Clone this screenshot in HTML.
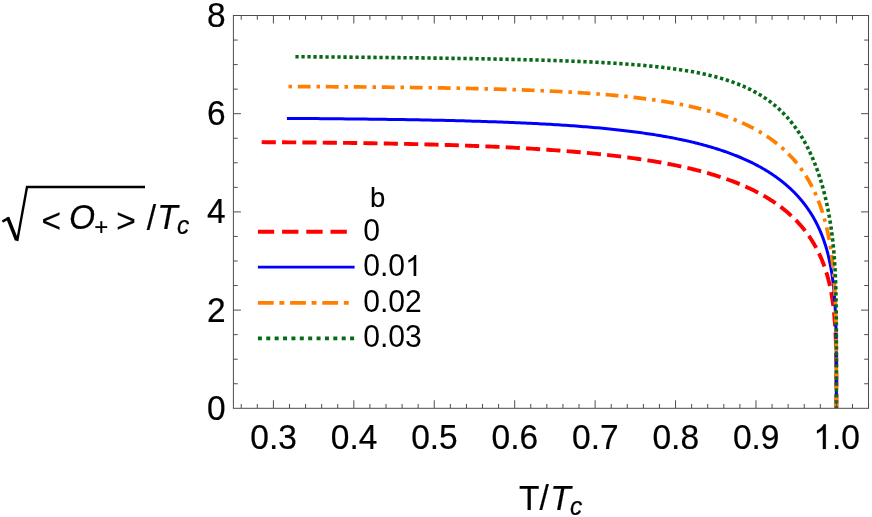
<!DOCTYPE html><html><head><meta charset="utf-8"><title>chart</title>
<style>html,body{margin:0;padding:0;background:#fff}svg{display:block;will-change:transform}text{font-family:"Liberation Sans",sans-serif;fill:#000}</style></head><body>
<svg width="872" height="517" viewBox="0 0 872 517">
<rect width="872" height="517" fill="#fff"/>
<clipPath id="c"><rect x="233.4" y="15.5" width="635.1" height="392.8"/></clipPath>
<g clip-path="url(#c)" fill="none" stroke-linecap="butt" stroke-linejoin="round">
<path d="M261.70,142.17 L266.29,142.20 L270.86,142.22 L275.40,142.25 L279.91,142.28 L284.39,142.31 L288.85,142.34 L293.28,142.37 L297.68,142.41 L302.05,142.44 L306.40,142.48 L310.72,142.51 L315.02,142.55 L319.29,142.59 L323.53,142.64 L327.75,142.68 L331.94,142.73 L336.10,142.77 L340.24,142.82 L344.36,142.87 L348.44,142.92 L352.51,142.98 L356.54,143.03 L360.55,143.09 L364.54,143.15 L368.50,143.21 L372.44,143.27 L376.35,143.33 L380.23,143.40 L384.10,143.47 L387.93,143.54 L391.75,143.61 L395.53,143.68 L399.30,143.76 L403.04,143.84 L406.75,143.92 L410.45,144.00 L414.11,144.08 L417.76,144.17 L421.38,144.26 L424.98,144.35 L428.55,144.44 L432.10,144.54 L435.63,144.63 L439.13,144.73 L442.61,144.83 L446.07,144.94 L449.51,145.04 L452.92,145.15 L456.31,145.26 L459.68,145.38 L463.02,145.49 L466.34,145.61 L469.64,145.73 L472.92,145.85 L476.18,145.98 L479.41,146.10 L482.62,146.23 L485.81,146.37 L488.98,146.50 L492.13,146.64 L495.26,146.78 L498.36,146.92 L501.45,147.06 L504.51,147.21 L507.55,147.36 L510.57,147.51 L513.57,147.67 L516.55,147.83 L519.51,147.99 L522.44,148.15 L525.36,148.32 L528.26,148.48 L531.13,148.65 L533.99,148.83 L536.83,149.00 L539.64,149.18 L542.44,149.37 L545.22,149.55 L547.97,149.74 L550.71,149.93 L553.43,150.12 L556.13,150.32 L558.80,150.51 L561.46,150.72 L564.10,150.92 L566.73,151.13 L569.33,151.34 L571.91,151.55 L574.48,151.76 L577.02,151.98 L579.55,152.20 L582.06,152.43 L584.55,152.66 L587.02,152.89 L589.48,153.12 L591.91,153.35 L594.33,153.59 L596.73,153.84 L599.11,154.08 L601.47,154.33 L603.82,154.58 L606.15,154.83 L608.46,155.09 L610.75,155.35 L613.03,155.61 L615.29,155.88 L617.53,156.15 L619.76,156.42 L621.96,156.70 L624.16,156.98 L626.33,157.26 L628.49,157.54 L630.63,157.83 L632.75,158.12 L634.86,158.42 L636.95,158.71 L639.02,159.01 L641.08,159.32 L643.13,159.62 L645.15,159.93 L647.16,160.25 L649.16,160.56 L651.14,160.88 L653.10,161.20 L655.05,161.53 L656.98,161.86 L658.89,162.19 L660.80,162.53 L662.68,162.86 L664.55,163.21 L666.41,163.55 L668.25,163.90 L670.07,164.25 L671.88,164.61 L673.68,164.96 L675.46,165.32 L677.23,165.69 L678.98,166.06 L680.71,166.43 L682.44,166.80 L684.15,167.18 L685.84,167.56 L687.52,167.94 L689.18,168.33 L690.84,168.72 L692.47,169.11 L694.10,169.51 L695.71,169.91 L697.31,170.31 L698.89,170.72 L700.46,171.13 L702.01,171.54 L703.56,171.96 L705.08,172.38 L706.60,172.80 L708.10,173.22 L709.59,173.65 L711.07,174.08 L712.53,174.52 L713.98,174.96 L715.42,175.40 L716.85,175.84 L718.26,176.29 L719.66,176.74 L721.05,177.19 L722.42,177.65 L723.79,178.11 L725.14,178.57 L726.48,179.04 L727.80,179.51 L729.12,179.98 L730.42,180.46 L731.71,180.93 L732.99,181.42 L734.25,181.90 L735.51,182.39 L736.75,182.88 L737.99,183.37 L739.21,183.87 L740.42,184.37 L741.61,184.87 L742.80,185.37 L743.98,185.88 L745.14,186.39 L746.29,186.91 L747.44,187.42 L748.57,187.94 L749.69,188.46 L750.80,188.99 L751.90,189.52 L752.99,190.05 L754.06,190.58 L755.13,191.12 L756.19,191.66 L757.23,192.20 L758.27,192.74 L759.30,193.29 L760.31,193.84 L761.32,194.39 L762.32,194.95 L763.30,195.50 L764.28,196.06 L765.24,196.62 L766.20,197.19 L767.15,197.76 L768.09,198.33 L769.01,198.90 L769.93,199.47 L770.84,200.05 L771.74,200.63 L772.63,201.21 L773.51,201.80 L774.38,202.38 L775.25,202.97 L776.10,203.56 L776.95,204.16 L777.78,204.75 L778.61,205.35 L779.43,205.95 L780.24,206.56 L781.04,207.16 L781.83,207.77 L782.61,208.38 L783.39,208.99 L784.16,209.60 L784.91,210.21 L785.66,210.83 L786.41,211.45 L787.14,212.07 L787.87,212.69 L788.58,213.32 L789.29,213.95 L789.99,214.58 L790.69,215.21 L791.37,215.84 L792.05,216.47 L792.72,217.11 L793.39,217.75 L794.04,218.39 L794.69,219.03 L795.33,219.67 L795.96,220.31 L796.59,220.96 L797.21,221.61 L797.82,222.26 L798.42,222.91 L799.02,223.56 L799.61,224.22 L800.19,224.87 L800.77,225.53 L801.34,226.19 L801.90,226.85 L802.45,227.51 L803.00,228.17 L803.55,228.84 L804.08,229.50 L804.61,230.17 L805.13,230.84 L805.65,231.51 L806.16,232.18 L806.66,232.85 L807.16,233.52 L807.65,234.20 L808.13,234.88 L808.61,235.55 L809.08,236.23 L809.55,236.91 L810.01,237.59 L810.46,238.27 L810.91,238.96 L811.35,239.64 L811.79,240.32 L812.22,241.01 L812.64,241.70 L813.06,242.39 L813.48,243.07 L813.89,243.76 L814.29,244.46 L814.69,245.15 L815.08,245.84 L815.47,246.53 L815.85,247.23 L816.22,247.92 L816.59,248.62 L816.96,249.32 L817.32,250.02 L817.68,250.71 L818.03,251.41 L818.37,252.11 L818.71,252.82 L819.05,253.52 L819.38,254.22 L819.71,254.92 L820.03,255.63 L820.35,256.33 L820.66,257.04 L820.97,257.75 L821.27,258.45 L821.57,259.16 L821.86,259.87 L822.15,260.58 L822.44,261.29 L822.72,262.00 L823.00,262.71 L823.27,263.42 L823.54,264.13 L823.80,264.85 L824.06,265.56 L824.32,266.27 L824.57,266.99 L824.82,267.70 L825.07,268.42 L825.31,269.13 L825.54,269.85 L825.78,270.57 L826.00,271.29 L826.23,272.00 L826.45,272.72 L826.67,273.44 L826.88,274.16 L827.09,274.88 L827.30,275.60 L827.51,276.32 L827.71,277.05 L827.90,277.77 L828.10,278.49 L828.29,279.21 L828.47,279.94 L828.66,280.66 L828.84,281.39 L829.02,282.11 L829.19,282.84 L829.36,283.56 L829.53,284.29 L829.69,285.02 L829.86,285.75 L830.02,286.47 L830.17,287.20 L830.33,287.93 L830.48,288.66 L830.62,289.39 L830.77,290.12 L830.91,290.85 L831.05,291.58 L831.19,292.32 L831.32,293.05 L831.45,293.78 L831.58,294.51 L831.71,295.25 L831.83,295.98 L831.95,296.72 L832.07,297.45 L832.19,298.19 L832.30,298.92 L832.41,299.66 L832.52,300.40 L832.63,301.13 L832.74,301.87 L832.84,302.61 L832.94,303.35 L833.04,304.09 L833.13,304.83 L833.23,305.57 L833.32,306.31 L833.41,307.05 L833.50,307.79 L833.59,308.54 L833.67,309.28 L833.75,310.02 L833.83,310.77 L833.91,311.51 L833.99,312.26 L834.06,313.00 L834.14,313.75 L834.21,314.50 L834.28,315.24 L834.35,315.99 L834.41,316.74 L834.48,317.49 L834.54,318.24 L834.60,318.99 L834.66,319.74 L834.72,320.49 L834.78,321.25 L834.83,322.00 L834.89,322.75 L834.94,323.51 L834.99,324.26 L835.04,325.02 L835.09,325.77 L835.14,326.53 L835.19,327.29 L835.23,328.04 L835.27,328.80 L835.32,329.56 L835.36,330.32 L835.40,331.08 L835.44,331.84 L835.47,332.60 L835.51,333.37 L835.55,334.13 L835.58,334.89 L835.61,335.66 L835.65,336.42 L835.68,337.19 L835.71,337.95 L835.74,338.72 L835.76,339.49 L835.79,340.26 L835.82,341.02 L835.84,341.79 L835.87,342.56 L835.89,343.33 L835.92,344.11 L835.94,344.88 L835.96,345.65 L835.98,346.42 L836.00,347.20 L836.02,347.97 L836.04,348.75 L836.06,349.52 L836.07,350.30 L836.09,351.08 L836.11,351.85 L836.12,352.63 L836.14,353.41 L836.15,354.19 L836.16,354.97 L836.18,355.75 L836.19,356.53 L836.20,357.31 L836.21,358.09 L836.22,358.88 L836.23,359.66 L836.24,360.44 L836.25,361.23 L836.26,362.01 L836.27,362.79 L836.28,363.58 L836.29,364.36 L836.30,365.15 L836.30,365.93 L836.31,366.72 L836.32,367.51 L836.32,368.29 L836.33,369.08 L836.33,369.87 L836.34,370.65 L836.34,371.44 L836.35,372.23 L836.35,373.02 L836.35,373.80 L836.36,374.59 L836.36,375.38 L836.37,376.16 L836.37,376.95 L836.37,377.74 L836.37,378.52 L836.38,379.31 L836.38,380.09 L836.38,380.88 L836.38,381.66 L836.38,382.44 L836.39,383.22 L836.39,384.01 L836.39,384.79 L836.39,385.56 L836.39,386.34 L836.39,387.12 L836.39,387.89 L836.39,388.67 L836.40,389.44 L836.40,390.21 L836.40,390.98 L836.40,391.74 L836.40,392.51 L836.40,393.27 L836.40,394.03 L836.40,394.78 L836.40,395.53 L836.40,396.28 L836.40,397.03 L836.40,397.77 L836.40,398.50 L836.40,399.23 L836.40,399.96 L836.40,400.68 L836.40,401.39 L836.40,402.10 L836.40,402.79 L836.40,403.48 L836.40,404.16 L836.40,404.82 L836.40,405.48 L836.40,406.11 L836.40,406.72 L836.40,407.31 L836.40,407.85 L836.40,408.30" stroke="#ff0000" stroke-width="3.9" stroke-dasharray="14.16 6.18"/>
<path d="M286.90,118.41 L291.29,118.44 L295.66,118.47 L300.00,118.50 L304.31,118.53 L308.60,118.56 L312.86,118.59 L317.09,118.62 L321.30,118.66 L325.48,118.69 L329.64,118.73 L333.77,118.76 L337.88,118.80 L341.96,118.84 L346.02,118.88 L350.05,118.92 L354.06,118.96 L358.04,119.00 L362.00,119.05 L365.93,119.09 L369.84,119.14 L373.72,119.19 L377.58,119.24 L381.42,119.29 L385.23,119.34 L389.02,119.39 L392.78,119.45 L396.52,119.50 L400.24,119.56 L403.93,119.62 L407.60,119.68 L411.24,119.74 L414.87,119.80 L418.46,119.87 L422.04,119.93 L425.59,120.00 L429.12,120.07 L432.63,120.14 L436.12,120.21 L439.58,120.29 L443.02,120.36 L446.43,120.44 L449.83,120.52 L453.20,120.60 L456.55,120.69 L459.88,120.77 L463.19,120.86 L466.47,120.95 L469.73,121.04 L472.97,121.13 L476.19,121.23 L479.39,121.32 L482.57,121.42 L485.72,121.52 L488.86,121.63 L491.97,121.73 L495.07,121.84 L498.14,121.95 L501.19,122.06 L504.22,122.18 L507.23,122.29 L510.22,122.41 L513.19,122.53 L516.13,122.66 L519.06,122.78 L521.97,122.91 L524.86,123.04 L527.73,123.18 L530.57,123.31 L533.40,123.45 L536.21,123.60 L539.00,123.74 L541.77,123.89 L544.52,124.04 L547.25,124.19 L549.96,124.35 L552.66,124.50 L555.33,124.66 L557.98,124.83 L560.62,124.99 L563.24,125.16 L565.84,125.34 L568.42,125.51 L570.98,125.69 L573.52,125.87 L576.04,126.06 L578.55,126.24 L581.04,126.44 L583.51,126.63 L585.96,126.83 L588.40,127.03 L590.81,127.23 L593.21,127.44 L595.59,127.65 L597.96,127.86 L600.30,128.07 L602.63,128.29 L604.94,128.52 L607.24,128.74 L609.52,128.97 L611.78,129.20 L614.02,129.44 L616.25,129.68 L618.46,129.92 L620.65,130.17 L622.83,130.42 L624.99,130.67 L627.13,130.93 L629.26,131.19 L631.37,131.45 L633.46,131.72 L635.54,131.99 L637.60,132.26 L639.65,132.54 L641.68,132.82 L643.70,133.11 L645.70,133.40 L647.68,133.69 L649.65,133.98 L651.60,134.28 L653.54,134.58 L655.46,134.89 L657.37,135.20 L659.26,135.51 L661.14,135.83 L663.00,136.15 L664.85,136.48 L666.68,136.80 L668.50,137.14 L670.30,137.47 L672.09,137.81 L673.86,138.15 L675.62,138.50 L677.37,138.85 L679.10,139.20 L680.81,139.56 L682.52,139.92 L684.21,140.29 L685.88,140.65 L687.54,141.03 L689.19,141.40 L690.82,141.78 L692.44,142.16 L694.05,142.55 L695.64,142.94 L697.22,143.33 L698.79,143.73 L700.34,144.13 L701.88,144.53 L703.40,144.94 L704.92,145.35 L706.42,145.77 L707.91,146.19 L709.38,146.61 L710.84,147.03 L712.29,147.46 L713.73,147.89 L715.15,148.33 L716.57,148.77 L717.96,149.21 L719.35,149.66 L720.73,150.11 L722.09,150.56 L723.44,151.02 L724.78,151.48 L726.11,151.94 L727.42,152.41 L728.72,152.88 L730.02,153.35 L731.30,153.83 L732.56,154.31 L733.82,154.79 L735.07,155.28 L736.30,155.76 L737.52,156.26 L738.73,156.75 L739.93,157.25 L741.12,157.75 L742.30,158.26 L743.47,158.77 L744.62,159.28 L745.77,159.79 L746.90,160.31 L748.03,160.83 L749.14,161.36 L750.24,161.88 L751.34,162.41 L752.42,162.94 L753.49,163.48 L754.55,164.02 L755.60,164.56 L756.64,165.10 L757.67,165.65 L758.69,166.20 L759.71,166.75 L760.71,167.31 L761.70,167.86 L762.68,168.43 L763.65,168.99 L764.61,169.55 L765.56,170.12 L766.51,170.69 L767.44,171.27 L768.37,171.84 L769.28,172.42 L770.19,173.01 L771.08,173.59 L771.97,174.18 L772.85,174.76 L773.72,175.36 L774.58,175.95 L775.43,176.55 L776.27,177.14 L777.10,177.75 L777.93,178.35 L778.74,178.95 L779.55,179.56 L780.35,180.17 L781.14,180.78 L781.92,181.40 L782.70,182.02 L783.46,182.63 L784.22,183.26 L784.97,183.88 L785.71,184.50 L786.45,185.13 L787.17,185.76 L787.89,186.39 L788.60,187.03 L789.30,187.66 L789.99,188.30 L790.68,188.94 L791.36,189.58 L792.03,190.22 L792.69,190.87 L793.35,191.51 L794.00,192.16 L794.64,192.81 L795.27,193.47 L795.90,194.12 L796.52,194.78 L797.13,195.43 L797.74,196.09 L798.34,196.75 L798.93,197.42 L799.51,198.08 L800.09,198.75 L800.66,199.42 L801.22,200.08 L801.78,200.76 L802.33,201.43 L802.87,202.10 L803.41,202.78 L803.94,203.46 L804.47,204.13 L804.99,204.81 L805.50,205.50 L806.00,206.18 L806.50,206.86 L807.00,207.55 L807.48,208.24 L807.96,208.93 L808.44,209.62 L808.91,210.31 L809.37,211.00 L809.83,211.70 L810.28,212.39 L810.72,213.09 L811.16,213.79 L811.60,214.49 L812.03,215.19 L812.45,215.89 L812.87,216.59 L813.28,217.30 L813.69,218.01 L814.09,218.71 L814.48,219.42 L814.87,220.13 L815.26,220.84 L815.64,221.55 L816.01,222.27 L816.38,222.98 L816.75,223.70 L817.11,224.41 L817.46,225.13 L817.81,225.85 L818.16,226.57 L818.50,227.29 L818.83,228.02 L819.16,228.74 L819.49,229.46 L819.81,230.19 L820.13,230.92 L820.44,231.64 L820.75,232.37 L821.05,233.10 L821.35,233.84 L821.64,234.57 L821.93,235.30 L822.22,236.04 L822.50,236.77 L822.78,237.51 L823.05,238.25 L823.32,238.98 L823.59,239.72 L823.85,240.46 L824.10,241.21 L824.36,241.95 L824.60,242.69 L824.85,243.44 L825.09,244.18 L825.33,244.93 L825.56,245.68 L825.79,246.43 L826.02,247.18 L826.24,247.93 L826.46,248.68 L826.68,249.44 L826.89,250.19 L827.10,250.95 L827.30,251.70 L827.50,252.46 L827.70,253.22 L827.90,253.98 L828.09,254.74 L828.28,255.50 L828.46,256.26 L828.64,257.03 L828.82,257.79 L829.00,258.56 L829.17,259.32 L829.34,260.09 L829.51,260.86 L829.67,261.63 L829.83,262.40 L829.99,263.18 L830.14,263.95 L830.30,264.72 L830.45,265.50 L830.59,266.28 L830.74,267.05 L830.88,267.83 L831.02,268.61 L831.15,269.40 L831.28,270.18 L831.42,270.96 L831.54,271.75 L831.67,272.53 L831.79,273.32 L831.91,274.11 L832.03,274.90 L832.15,275.69 L832.26,276.48 L832.37,277.27 L832.48,278.07 L832.59,278.86 L832.69,279.66 L832.80,280.46 L832.90,281.26 L833.00,282.06 L833.09,282.86 L833.19,283.67 L833.28,284.47 L833.37,285.28 L833.46,286.08 L833.54,286.89 L833.63,287.70 L833.71,288.51 L833.79,289.33 L833.87,290.14 L833.95,290.96 L834.02,291.77 L834.09,292.59 L834.17,293.41 L834.24,294.23 L834.30,295.06 L834.37,295.88 L834.44,296.71 L834.50,297.53 L834.56,298.36 L834.62,299.19 L834.68,300.02 L834.74,300.86 L834.80,301.69 L834.85,302.53 L834.90,303.36 L834.95,304.20 L835.01,305.04 L835.05,305.89 L835.10,306.73 L835.15,307.58 L835.19,308.42 L835.24,309.27 L835.28,310.12 L835.32,310.98 L835.36,311.83 L835.40,312.68 L835.44,313.54 L835.48,314.40 L835.51,315.26 L835.55,316.12 L835.58,316.99 L835.62,317.85 L835.65,318.72 L835.68,319.59 L835.71,320.46 L835.74,321.33 L835.77,322.21 L835.79,323.08 L835.82,323.96 L835.84,324.84 L835.87,325.72 L835.89,326.61 L835.92,327.49 L835.94,328.38 L835.96,329.27 L835.98,330.16 L836.00,331.05 L836.02,331.94 L836.04,332.84 L836.05,333.74 L836.07,334.64 L836.09,335.54 L836.10,336.44 L836.12,337.35 L836.13,338.26 L836.15,339.17 L836.16,340.08 L836.17,340.99 L836.19,341.91 L836.20,342.82 L836.21,343.74 L836.22,344.66 L836.23,345.59 L836.24,346.51 L836.25,347.44 L836.26,348.36 L836.27,349.29 L836.28,350.23 L836.29,351.16 L836.29,352.09 L836.30,353.03 L836.31,353.97 L836.31,354.91 L836.32,355.85 L836.32,356.80 L836.33,357.75 L836.34,358.69 L836.34,359.64 L836.34,360.59 L836.35,361.55 L836.35,362.50 L836.36,363.46 L836.36,364.42 L836.36,365.37 L836.37,366.34 L836.37,367.30 L836.37,368.26 L836.37,369.23 L836.38,370.19 L836.38,371.16 L836.38,372.13 L836.38,373.10 L836.39,374.07 L836.39,375.05 L836.39,376.02 L836.39,376.99 L836.39,377.97 L836.39,378.95 L836.39,379.92 L836.39,380.90 L836.39,381.88 L836.40,382.86 L836.40,383.84 L836.40,384.82 L836.40,385.80 L836.40,386.78 L836.40,387.76 L836.40,388.73 L836.40,389.71 L836.40,390.69 L836.40,391.67 L836.40,392.64 L836.40,393.61 L836.40,394.59 L836.40,395.56 L836.40,396.52 L836.40,397.48 L836.40,398.44 L836.40,399.40 L836.40,400.35 L836.40,401.29 L836.40,402.23 L836.40,403.16 L836.40,404.08 L836.40,404.98 L836.40,405.87 L836.40,406.73 L836.40,407.56 L836.40,408.30" stroke="#0000ff" stroke-width="3.0"/>
<path d="M288.50,86.52 L292.88,86.54 L297.23,86.56 L301.56,86.58 L305.86,86.60 L310.13,86.63 L314.38,86.65 L318.60,86.67 L322.80,86.70 L326.97,86.72 L331.12,86.75 L335.24,86.78 L339.33,86.80 L343.40,86.83 L347.45,86.86 L351.47,86.89 L355.46,86.92 L359.43,86.95 L363.38,86.98 L367.30,87.02 L371.20,87.05 L375.07,87.09 L378.92,87.12 L382.74,87.16 L386.54,87.20 L390.32,87.24 L394.07,87.28 L397.80,87.32 L401.51,87.36 L405.19,87.41 L408.85,87.45 L412.48,87.50 L416.09,87.54 L419.68,87.59 L423.25,87.64 L426.79,87.69 L430.31,87.75 L433.81,87.80 L437.28,87.85 L440.73,87.91 L444.16,87.97 L447.57,88.03 L450.95,88.09 L454.32,88.15 L457.66,88.21 L460.98,88.28 L464.27,88.34 L467.55,88.41 L470.80,88.48 L474.03,88.55 L477.24,88.63 L480.43,88.70 L483.60,88.78 L486.75,88.86 L489.87,88.94 L492.98,89.02 L496.06,89.10 L499.12,89.19 L502.16,89.28 L505.19,89.37 L508.19,89.46 L511.17,89.55 L514.13,89.65 L517.07,89.75 L519.99,89.85 L522.89,89.95 L525.76,90.06 L528.62,90.16 L531.46,90.27 L534.28,90.38 L537.09,90.50 L539.87,90.61 L542.63,90.73 L545.37,90.85 L548.09,90.98 L550.80,91.10 L553.48,91.23 L556.15,91.36 L558.79,91.50 L561.42,91.63 L564.03,91.77 L566.62,91.92 L569.20,92.06 L571.75,92.21 L574.29,92.36 L576.80,92.51 L579.30,92.67 L581.78,92.83 L584.25,92.99 L586.69,93.15 L589.12,93.32 L591.53,93.49 L593.92,93.67 L596.29,93.85 L598.65,94.03 L600.99,94.21 L603.31,94.40 L605.62,94.59 L607.91,94.78 L610.18,94.98 L612.43,95.18 L614.67,95.38 L616.89,95.59 L619.09,95.80 L621.28,96.01 L623.45,96.23 L625.60,96.45 L627.74,96.68 L629.86,96.90 L631.96,97.14 L634.05,97.37 L636.13,97.61 L638.18,97.85 L640.22,98.10 L642.25,98.35 L644.26,98.60 L646.25,98.86 L648.23,99.12 L650.19,99.39 L652.14,99.66 L654.07,99.93 L655.99,100.21 L657.89,100.49 L659.78,100.78 L661.65,101.07 L663.50,101.36 L665.35,101.66 L667.17,101.96 L668.98,102.27 L670.78,102.58 L672.57,102.89 L674.33,103.21 L676.09,103.53 L677.83,103.86 L679.56,104.19 L681.27,104.52 L682.96,104.86 L684.65,105.20 L686.32,105.55 L687.97,105.90 L689.62,106.26 L691.25,106.62 L692.86,106.99 L694.46,107.35 L696.05,107.73 L697.62,108.11 L699.19,108.49 L700.73,108.87 L702.27,109.26 L703.79,109.66 L705.30,110.06 L706.80,110.46 L708.28,110.87 L709.75,111.28 L711.21,111.70 L712.65,112.12 L714.09,112.55 L715.51,112.98 L716.91,113.41 L718.31,113.85 L719.69,114.30 L721.06,114.74 L722.42,115.20 L723.77,115.65 L725.10,116.11 L726.43,116.58 L727.74,117.05 L729.04,117.52 L730.33,118.00 L731.60,118.48 L732.87,118.97 L734.12,119.46 L735.36,119.96 L736.59,120.46 L737.81,120.96 L739.02,121.47 L740.21,121.99 L741.40,122.51 L742.57,123.03 L743.74,123.55 L744.89,124.08 L746.03,124.62 L747.16,125.16 L748.29,125.70 L749.40,126.25 L750.50,126.80 L751.58,127.36 L752.66,127.92 L753.73,128.48 L754.79,129.05 L755.84,129.62 L756.88,130.20 L757.90,130.78 L758.92,131.36 L759.93,131.95 L760.93,132.55 L761.91,133.14 L762.89,133.74 L763.86,134.35 L764.82,134.96 L765.77,135.57 L766.71,136.19 L767.64,136.81 L768.56,137.43 L769.48,138.06 L770.38,138.69 L771.27,139.33 L772.16,139.97 L773.03,140.61 L773.90,141.26 L774.76,141.91 L775.60,142.57 L776.44,143.23 L777.28,143.89 L778.10,144.56 L778.91,145.22 L779.72,145.90 L780.51,146.57 L781.30,147.25 L782.08,147.94 L782.86,148.63 L783.62,149.32 L784.37,150.01 L785.12,150.71 L785.86,151.41 L786.59,152.11 L787.31,152.82 L788.03,153.53 L788.74,154.25 L789.44,154.96 L790.13,155.68 L790.81,156.41 L791.49,157.13 L792.16,157.86 L792.82,158.60 L793.47,159.33 L794.12,160.07 L794.76,160.81 L795.39,161.56 L796.02,162.31 L796.64,163.06 L797.25,163.81 L797.85,164.57 L798.45,165.33 L799.04,166.09 L799.62,166.86 L800.19,167.63 L800.76,168.40 L801.33,169.17 L801.88,169.95 L802.43,170.73 L802.97,171.51 L803.51,172.29 L804.04,173.08 L804.56,173.87 L805.08,174.66 L805.59,175.46 L806.09,176.26 L806.59,177.06 L807.08,177.86 L807.57,178.66 L808.05,179.47 L808.52,180.28 L808.99,181.09 L809.45,181.91 L809.91,182.72 L810.36,183.54 L810.80,184.36 L811.24,185.18 L811.67,186.01 L812.10,186.84 L812.52,187.67 L812.94,188.50 L813.35,189.33 L813.75,190.17 L814.15,191.01 L814.55,191.85 L814.94,192.69 L815.32,193.54 L815.70,194.38 L816.07,195.23 L816.44,196.08 L816.81,196.93 L817.16,197.79 L817.52,198.64 L817.87,199.50 L818.21,200.36 L818.55,201.22 L818.88,202.09 L819.21,202.95 L819.54,203.82 L819.86,204.69 L820.18,205.56 L820.49,206.43 L820.79,207.31 L821.10,208.18 L821.39,209.06 L821.69,209.94 L821.98,210.82 L822.26,211.70 L822.54,212.59 L822.82,213.47 L823.09,214.36 L823.36,215.25 L823.62,216.14 L823.88,217.03 L824.14,217.93 L824.39,218.82 L824.64,219.72 L824.88,220.62 L825.12,221.52 L825.36,222.42 L825.59,223.32 L825.82,224.23 L826.05,225.13 L826.27,226.04 L826.49,226.95 L826.70,227.86 L826.92,228.77 L827.12,229.69 L827.33,230.60 L827.53,231.52 L827.73,232.43 L827.92,233.35 L828.11,234.27 L828.30,235.20 L828.48,236.12 L828.67,237.04 L828.84,237.97 L829.02,238.90 L829.19,239.82 L829.36,240.75 L829.53,241.69 L829.69,242.62 L829.85,243.55 L830.01,244.49 L830.16,245.42 L830.31,246.36 L830.46,247.30 L830.61,248.24 L830.75,249.18 L830.89,250.12 L831.03,251.07 L831.17,252.01 L831.30,252.96 L831.43,253.91 L831.56,254.86 L831.68,255.81 L831.81,256.76 L831.93,257.72 L832.04,258.67 L832.16,259.63 L832.27,260.58 L832.38,261.54 L832.49,262.50 L832.60,263.46 L832.70,264.43 L832.81,265.39 L832.91,266.35 L833.01,267.32 L833.10,268.29 L833.20,269.26 L833.29,270.23 L833.38,271.20 L833.46,272.17 L833.55,273.14 L833.63,274.12 L833.72,275.10 L833.80,276.07 L833.88,277.05 L833.95,278.03 L834.03,279.02 L834.10,280.00 L834.17,280.98 L834.24,281.97 L834.31,282.96 L834.38,283.94 L834.44,284.93 L834.51,285.92 L834.57,286.92 L834.63,287.91 L834.69,288.90 L834.74,289.90 L834.80,290.90 L834.85,291.90 L834.91,292.90 L834.96,293.90 L835.01,294.90 L835.06,295.90 L835.11,296.91 L835.15,297.91 L835.20,298.92 L835.24,299.93 L835.28,300.94 L835.33,301.95 L835.37,302.97 L835.41,303.98 L835.44,305.00 L835.48,306.01 L835.52,307.03 L835.55,308.05 L835.58,309.07 L835.62,310.09 L835.65,311.12 L835.68,312.14 L835.71,313.17 L835.74,314.19 L835.77,315.22 L835.79,316.25 L835.82,317.28 L835.85,318.31 L835.87,319.34 L835.89,320.38 L835.92,321.41 L835.94,322.45 L835.96,323.49 L835.98,324.53 L836.00,325.57 L836.02,326.61 L836.04,327.65 L836.06,328.69 L836.07,329.74 L836.09,330.78 L836.11,331.83 L836.12,332.88 L836.14,333.93 L836.15,334.98 L836.16,336.03 L836.18,337.08 L836.19,338.13 L836.20,339.18 L836.21,340.24 L836.22,341.29 L836.23,342.35 L836.24,343.40 L836.25,344.46 L836.26,345.52 L836.27,346.58 L836.28,347.64 L836.29,348.70 L836.29,349.76 L836.30,350.82 L836.31,351.88 L836.31,352.94 L836.32,354.00 L836.32,355.06 L836.33,356.12 L836.34,357.19 L836.34,358.25 L836.34,359.31 L836.35,360.37 L836.35,361.44 L836.36,362.50 L836.36,363.56 L836.36,364.62 L836.37,365.68 L836.37,366.74 L836.37,367.80 L836.38,368.86 L836.38,369.92 L836.38,370.98 L836.38,372.04 L836.38,373.09 L836.39,374.14 L836.39,375.20 L836.39,376.25 L836.39,377.30 L836.39,378.34 L836.39,379.39 L836.39,380.43 L836.39,381.47 L836.39,382.51 L836.40,383.54 L836.40,384.58 L836.40,385.60 L836.40,386.63 L836.40,387.65 L836.40,388.66 L836.40,389.68 L836.40,390.68 L836.40,391.68 L836.40,392.68 L836.40,393.67 L836.40,394.65 L836.40,395.62 L836.40,396.59 L836.40,397.55 L836.40,398.50 L836.40,399.43 L836.40,400.36 L836.40,401.27 L836.40,402.17 L836.40,403.05 L836.40,403.91 L836.40,404.75 L836.40,405.56 L836.40,406.34 L836.40,407.08 L836.40,407.76 L836.40,408.30" stroke="#ff8000" stroke-width="3.7" stroke-dasharray="3.5 5.8 12.8 5.9"/>
<path d="M295.40,56.69 L299.72,56.72 L304.02,56.76 L308.29,56.79 L312.54,56.83 L316.76,56.86 L320.95,56.90 L325.12,56.94 L329.27,56.97 L333.39,57.01 L337.48,57.05 L341.55,57.08 L345.59,57.12 L349.61,57.16 L353.61,57.19 L357.58,57.23 L361.52,57.27 L365.44,57.31 L369.34,57.35 L373.21,57.39 L377.06,57.43 L380.88,57.47 L384.68,57.51 L388.46,57.55 L392.21,57.59 L395.94,57.63 L399.64,57.67 L403.33,57.71 L406.98,57.75 L410.62,57.79 L414.23,57.84 L417.82,57.88 L421.39,57.92 L424.93,57.97 L428.45,58.01 L431.95,58.06 L435.42,58.10 L438.88,58.15 L442.31,58.20 L445.72,58.25 L449.10,58.29 L452.47,58.34 L455.81,58.39 L459.13,58.44 L462.43,58.49 L465.70,58.54 L468.96,58.60 L472.19,58.65 L475.40,58.70 L478.60,58.76 L481.77,58.81 L484.91,58.87 L488.04,58.92 L491.15,58.98 L494.24,59.04 L497.30,59.10 L500.35,59.16 L503.37,59.22 L506.37,59.29 L509.36,59.35 L512.32,59.42 L515.26,59.48 L518.18,59.55 L521.09,59.62 L523.97,59.69 L526.83,59.76 L529.68,59.83 L532.50,59.90 L535.30,59.98 L538.09,60.06 L540.85,60.13 L543.60,60.21 L546.33,60.29 L549.04,60.37 L551.72,60.46 L554.39,60.54 L557.04,60.63 L559.68,60.72 L562.29,60.81 L564.89,60.90 L567.46,60.99 L570.02,61.09 L572.56,61.19 L575.08,61.29 L577.59,61.39 L580.07,61.49 L582.54,61.60 L584.99,61.70 L587.42,61.81 L589.84,61.92 L592.23,62.04 L594.61,62.15 L596.97,62.27 L599.32,62.39 L601.64,62.51 L603.95,62.64 L606.25,62.77 L608.52,62.90 L610.78,63.03 L613.02,63.16 L615.25,63.30 L617.46,63.44 L619.65,63.59 L621.83,63.73 L623.99,63.88 L626.13,64.03 L628.26,64.19 L630.37,64.34 L632.46,64.50 L634.54,64.67 L636.60,64.84 L638.65,65.01 L640.68,65.18 L642.69,65.35 L644.69,65.53 L646.68,65.72 L648.65,65.90 L650.60,66.09 L652.54,66.29 L654.46,66.49 L656.37,66.69 L658.26,66.89 L660.14,67.10 L662.00,67.31 L663.85,67.53 L665.68,67.75 L667.50,67.97 L669.30,68.20 L671.09,68.43 L672.87,68.67 L674.63,68.91 L676.38,69.16 L678.11,69.40 L679.83,69.66 L681.53,69.92 L683.22,70.18 L684.90,70.45 L686.56,70.72 L688.21,70.99 L689.84,71.28 L691.47,71.56 L693.07,71.85 L694.67,72.15 L696.25,72.45 L697.82,72.76 L699.37,73.07 L700.91,73.38 L702.44,73.70 L703.96,74.03 L705.46,74.36 L706.95,74.70 L708.43,75.04 L709.89,75.39 L711.35,75.74 L712.78,76.10 L714.21,76.46 L715.63,76.83 L717.03,77.21 L718.42,77.59 L719.80,77.98 L721.16,78.37 L722.52,78.77 L723.86,79.17 L725.19,79.58 L726.51,80.00 L727.81,80.42 L729.11,80.85 L730.39,81.28 L731.66,81.72 L732.92,82.17 L734.17,82.62 L735.41,83.08 L736.63,83.55 L737.85,84.02 L739.05,84.50 L740.24,84.98 L741.43,85.47 L742.60,85.97 L743.76,86.47 L744.91,86.98 L746.04,87.50 L747.17,88.02 L748.29,88.55 L749.40,89.08 L750.49,89.63 L751.58,90.17 L752.65,90.73 L753.72,91.29 L754.77,91.86 L755.82,92.43 L756.85,93.01 L757.88,93.60 L758.89,94.20 L759.90,94.80 L760.89,95.40 L761.88,96.02 L762.85,96.64 L763.82,97.26 L764.78,97.90 L765.72,98.54 L766.66,99.18 L767.59,99.83 L768.51,100.49 L769.42,101.16 L770.32,101.83 L771.21,102.51 L772.09,103.19 L772.97,103.88 L773.83,104.58 L774.69,105.28 L775.53,105.99 L776.37,106.71 L777.20,107.43 L778.02,108.16 L778.83,108.89 L779.64,109.63 L780.43,110.38 L781.22,111.13 L782.00,111.89 L782.77,112.65 L783.53,113.42 L784.28,114.19 L785.03,114.98 L785.77,115.76 L786.50,116.55 L787.22,117.35 L787.93,118.15 L788.64,118.96 L789.34,119.78 L790.03,120.59 L790.71,121.42 L791.39,122.25 L792.06,123.08 L792.72,123.92 L793.37,124.76 L794.02,125.61 L794.65,126.47 L795.29,127.33 L795.91,128.19 L796.53,129.06 L797.14,129.93 L797.74,130.80 L798.33,131.68 L798.92,132.57 L799.51,133.46 L800.08,134.35 L800.65,135.25 L801.21,136.15 L801.77,137.05 L802.32,137.96 L802.86,138.88 L803.39,139.79 L803.92,140.71 L804.45,141.63 L804.96,142.56 L805.47,143.49 L805.98,144.42 L806.47,145.36 L806.97,146.29 L807.45,147.24 L807.93,148.18 L808.40,149.13 L808.87,150.08 L809.33,151.03 L809.79,151.98 L810.24,152.94 L810.68,153.90 L811.12,154.86 L811.55,155.82 L811.98,156.79 L812.40,157.75 L812.82,158.72 L813.23,159.69 L813.64,160.67 L814.04,161.64 L814.43,162.62 L814.82,163.59 L815.21,164.57 L815.59,165.55 L815.96,166.53 L816.33,167.51 L816.69,168.49 L817.05,169.48 L817.41,170.46 L817.76,171.45 L818.10,172.43 L818.44,173.42 L818.77,174.41 L819.10,175.40 L819.43,176.38 L819.75,177.37 L820.07,178.36 L820.38,179.35 L820.69,180.34 L820.99,181.33 L821.29,182.32 L821.58,183.31 L821.87,184.29 L822.16,185.28 L822.44,186.27 L822.72,187.26 L822.99,188.25 L823.26,189.24 L823.52,190.22 L823.78,191.21 L824.04,192.20 L824.29,193.18 L824.54,194.17 L824.79,195.15 L825.03,196.13 L825.27,197.12 L825.50,198.10 L825.73,199.08 L825.96,200.06 L826.18,201.04 L826.40,202.01 L826.61,202.99 L826.83,203.97 L827.03,204.94 L827.24,205.92 L827.44,206.89 L827.64,207.86 L827.84,208.83 L828.03,209.80 L828.22,210.77 L828.40,211.73 L828.58,212.70 L828.76,213.66 L828.94,214.62 L829.11,215.59 L829.28,216.55 L829.45,217.50 L829.61,218.46 L829.77,219.42 L829.93,220.37 L830.09,221.33 L830.24,222.28 L830.39,223.23 L830.54,224.18 L830.68,225.12 L830.82,226.07 L830.96,227.02 L831.10,227.96 L831.23,228.90 L831.36,229.84 L831.49,230.78 L831.62,231.72 L831.74,232.66 L831.86,233.59 L831.98,234.53 L832.10,235.46 L832.21,236.40 L832.33,237.33 L832.44,238.26 L832.54,239.19 L832.65,240.11 L832.75,241.04 L832.85,241.96 L832.95,242.89 L833.05,243.81 L833.14,244.74 L833.24,245.66 L833.33,246.58 L833.41,247.50 L833.50,248.42 L833.59,249.33 L833.67,250.25 L833.75,251.17 L833.83,252.09 L833.91,253.00 L833.98,253.92 L834.06,254.83 L834.13,255.74 L834.20,256.66 L834.27,257.57 L834.34,258.48 L834.40,259.40 L834.47,260.31 L834.53,261.22 L834.59,262.13 L834.65,263.05 L834.71,263.96 L834.76,264.87 L834.82,265.78 L834.87,266.70 L834.93,267.61 L834.98,268.52 L835.03,269.44 L835.08,270.35 L835.12,271.27 L835.17,272.18 L835.21,273.10 L835.26,274.01 L835.30,274.93 L835.34,275.85 L835.38,276.77 L835.42,277.69 L835.46,278.61 L835.49,279.54 L835.53,280.46 L835.56,281.39 L835.60,282.31 L835.63,283.24 L835.66,284.17 L835.69,285.10 L835.72,286.04 L835.75,286.97 L835.77,287.91 L835.80,288.85 L835.83,289.79 L835.85,290.74 L835.88,291.68 L835.90,292.63 L835.92,293.58 L835.94,294.54 L835.97,295.49 L835.99,296.45 L836.01,297.41 L836.02,298.38 L836.04,299.35 L836.06,300.32 L836.08,301.30 L836.09,302.27 L836.11,303.26 L836.12,304.24 L836.14,305.23 L836.15,306.23 L836.17,307.22 L836.18,308.23 L836.19,309.23 L836.20,310.24 L836.21,311.26 L836.22,312.28 L836.23,313.30 L836.24,314.33 L836.25,315.37 L836.26,316.41 L836.27,317.45 L836.28,318.50 L836.29,319.56 L836.29,320.62 L836.30,321.69 L836.31,322.76 L836.31,323.84 L836.32,324.93 L836.33,326.02 L836.33,327.12 L836.34,328.23 L836.34,329.35 L836.35,330.47 L836.35,331.60 L836.35,332.74 L836.36,333.88 L836.36,335.04 L836.36,336.20 L836.37,337.37 L836.37,338.55 L836.37,339.74 L836.38,340.94 L836.38,342.15 L836.38,343.37 L836.38,344.59 L836.38,345.83 L836.39,347.08 L836.39,348.35 L836.39,349.62 L836.39,350.91 L836.39,352.20 L836.39,353.52 L836.39,354.84 L836.39,356.18 L836.39,357.53 L836.40,358.90 L836.40,360.28 L836.40,361.68 L836.40,363.10 L836.40,364.53 L836.40,365.98 L836.40,367.46 L836.40,368.95 L836.40,370.46 L836.40,372.00 L836.40,373.55 L836.40,375.14 L836.40,376.75 L836.40,378.39 L836.40,380.06 L836.40,381.76 L836.40,383.50 L836.40,385.29 L836.40,387.11 L836.40,388.98 L836.40,390.91 L836.40,392.91 L836.40,394.98 L836.40,397.15 L836.40,399.44 L836.40,401.89 L836.40,404.63 L836.40,408.30" stroke="#066a16" stroke-width="3.6" stroke-dasharray="3.3 2.7"/>
</g>
<g stroke="#4d4d4d" stroke-width="1" fill="none">
<rect x="233.4" y="15.5" width="635.1" height="392.8"/>
<path d="M241.23,408.3 v-4.3 M241.23,15.5 v4.3 M257.31,408.3 v-4.3 M257.31,15.5 v4.3 M273.40,408.3 v-8.0 M273.40,15.5 v8.0 M289.49,408.3 v-4.3 M289.49,15.5 v4.3 M305.57,408.3 v-4.3 M305.57,15.5 v4.3 M321.66,408.3 v-4.3 M321.66,15.5 v4.3 M337.74,408.3 v-4.3 M337.74,15.5 v4.3 M353.83,408.3 v-8.0 M353.83,15.5 v8.0 M369.92,408.3 v-4.3 M369.92,15.5 v4.3 M386.00,408.3 v-4.3 M386.00,15.5 v4.3 M402.09,408.3 v-4.3 M402.09,15.5 v4.3 M418.17,408.3 v-4.3 M418.17,15.5 v4.3 M434.26,408.3 v-8.0 M434.26,15.5 v8.0 M450.35,408.3 v-4.3 M450.35,15.5 v4.3 M466.43,408.3 v-4.3 M466.43,15.5 v4.3 M482.52,408.3 v-4.3 M482.52,15.5 v4.3 M498.60,408.3 v-4.3 M498.60,15.5 v4.3 M514.69,408.3 v-8.0 M514.69,15.5 v8.0 M530.78,408.3 v-4.3 M530.78,15.5 v4.3 M546.86,408.3 v-4.3 M546.86,15.5 v4.3 M562.95,408.3 v-4.3 M562.95,15.5 v4.3 M579.03,408.3 v-4.3 M579.03,15.5 v4.3 M595.12,408.3 v-8.0 M595.12,15.5 v8.0 M611.21,408.3 v-4.3 M611.21,15.5 v4.3 M627.29,408.3 v-4.3 M627.29,15.5 v4.3 M643.38,408.3 v-4.3 M643.38,15.5 v4.3 M659.46,408.3 v-4.3 M659.46,15.5 v4.3 M675.55,408.3 v-8.0 M675.55,15.5 v8.0 M691.64,408.3 v-4.3 M691.64,15.5 v4.3 M707.72,408.3 v-4.3 M707.72,15.5 v4.3 M723.81,408.3 v-4.3 M723.81,15.5 v4.3 M739.89,408.3 v-4.3 M739.89,15.5 v4.3 M755.98,408.3 v-8.0 M755.98,15.5 v8.0 M772.07,408.3 v-4.3 M772.07,15.5 v4.3 M788.15,408.3 v-4.3 M788.15,15.5 v4.3 M804.24,408.3 v-4.3 M804.24,15.5 v4.3 M820.32,408.3 v-4.3 M820.32,15.5 v4.3 M836.41,408.3 v-8.0 M836.41,15.5 v8.0 M852.50,408.3 v-4.3 M852.50,15.5 v4.3 M868.58,408.3 v-4.3 M868.58,15.5 v4.3 M233.4,383.75 h4.3 M868.5,383.75 h-4.3 M233.4,359.20 h4.3 M868.5,359.20 h-4.3 M233.4,334.65 h4.3 M868.5,334.65 h-4.3 M233.4,310.10 h7.5 M868.5,310.10 h-7.5 M233.4,285.55 h4.3 M868.5,285.55 h-4.3 M233.4,261.00 h4.3 M868.5,261.00 h-4.3 M233.4,236.45 h4.3 M868.5,236.45 h-4.3 M233.4,211.90 h7.5 M868.5,211.90 h-7.5 M233.4,187.35 h4.3 M868.5,187.35 h-4.3 M233.4,162.80 h4.3 M868.5,162.80 h-4.3 M233.4,138.25 h4.3 M868.5,138.25 h-4.3 M233.4,113.70 h7.5 M868.5,113.70 h-7.5 M233.4,89.15 h4.3 M868.5,89.15 h-4.3 M233.4,64.60 h4.3 M868.5,64.60 h-4.3 M233.4,40.05 h4.3 M868.5,40.05 h-4.3"/>
</g>
<text transform="translate(206.97,419.80) scale(1,1.07)" font-size="33.5" text-anchor="start" stroke="#000" stroke-width="0.2" >0</text>
<text transform="translate(206.97,321.60) scale(1,1.07)" font-size="33.5" text-anchor="start" stroke="#000" stroke-width="0.2" >2</text>
<text transform="translate(206.97,223.40) scale(1,1.07)" font-size="33.5" text-anchor="start" stroke="#000" stroke-width="0.2" >4</text>
<text transform="translate(206.97,125.20) scale(1,1.07)" font-size="33.5" text-anchor="start" stroke="#000" stroke-width="0.2" >6</text>
<text transform="translate(206.97,27.00) scale(1,1.07)" font-size="33.5" text-anchor="start" stroke="#000" stroke-width="0.2" >8</text>
<text transform="translate(250.32,449.00) scale(1,1.07)" font-size="33.5" text-anchor="start" stroke="#000" stroke-width="0.2" >0.3</text>
<text transform="translate(330.75,449.00) scale(1,1.07)" font-size="33.5" text-anchor="start" stroke="#000" stroke-width="0.2" >0.4</text>
<text transform="translate(411.18,449.00) scale(1,1.07)" font-size="33.5" text-anchor="start" stroke="#000" stroke-width="0.2" >0.5</text>
<text transform="translate(491.61,449.00) scale(1,1.07)" font-size="33.5" text-anchor="start" stroke="#000" stroke-width="0.2" >0.6</text>
<text transform="translate(572.04,449.00) scale(1,1.07)" font-size="33.5" text-anchor="start" stroke="#000" stroke-width="0.2" >0.7</text>
<text transform="translate(652.47,449.00) scale(1,1.07)" font-size="33.5" text-anchor="start" stroke="#000" stroke-width="0.2" >0.8</text>
<text transform="translate(732.90,449.00) scale(1,1.07)" font-size="33.5" text-anchor="start" stroke="#000" stroke-width="0.2" >0.9</text>
<path transform="translate(813.33,449.00) scale(0.01636,-0.01675)" d="M763 0H583V1147Q518 1085 412.5 1023T223 930V1104Q374 1175 487 1276T647 1472H763Z" fill="#000" stroke="#000" stroke-width="12.2"/>
<text transform="translate(831.96,449.00) scale(1,1.07)" font-size="33.5" text-anchor="start" stroke="#000" stroke-width="0.2" >.0</text>
<text transform="translate(519.10,509.80) scale(1,1.05)" font-size="33.5" text-anchor="start" stroke="#000" stroke-width="0.2" >T/</text>
<text transform="translate(550.30,509.80) scale(1,1.05)" font-size="33.5" text-anchor="start" stroke="#000" stroke-width="0.2" font-style="italic">T</text>
<text transform="translate(569.90,515.20) scale(1,1.05)" font-size="24.5" text-anchor="start" stroke="#000" stroke-width="0.2" font-style="italic">c</text>
<g fill="none" stroke="#000" stroke-linejoin="miter" stroke-linecap="butt">
<path d="M2.4,221.6 L8.9,217.9" stroke-width="2.4"/>
<path d="M7.6,217.4 L16.6,240.0" stroke-width="3.5"/>
<path d="M17.2,241.0 L27.0,187.05 L145.0,187.05" stroke-width="2.4"/>
</g>
<text transform="translate(41.50,232.20) scale(1,1.0)" font-size="33.5" text-anchor="start" stroke="#000" stroke-width="0.2" >&lt;</text>
<text transform="translate(69.00,229.00) scale(1,1.05)" font-size="33.5" text-anchor="start" stroke="#000" stroke-width="0.2" font-style="italic">O</text>
<text transform="translate(94.20,235.30) scale(1,1.0)" font-size="24" text-anchor="start" stroke="#000" stroke-width="0.2" >+</text>
<text transform="translate(116.20,232.20) scale(1,1.0)" font-size="33.5" text-anchor="start" stroke="#000" stroke-width="0.2" >&gt;</text>
<text transform="translate(146.80,229.50) scale(1,1.05)" font-size="33.5" text-anchor="start" stroke="#000" stroke-width="0.2" >/</text>
<text transform="translate(157.20,229.00) scale(1,1.05)" font-size="33.5" text-anchor="start" stroke="#000" stroke-width="0.2" font-style="italic">T</text>
<text transform="translate(176.90,234.20) scale(1,1.05)" font-size="24.5" text-anchor="start" stroke="#000" stroke-width="0.2" font-style="italic">c</text>
<text transform="translate(370.00,207.30) scale(1,1.0)" font-size="27.5" text-anchor="start" stroke="#000" stroke-width="0.1" >b</text>
<text transform="translate(363.20,240.80) scale(1,1.02)" font-size="30.1" text-anchor="start" stroke="#000" stroke-width="0" >0</text>
<text transform="translate(363.20,276.00) scale(1,1.02)" font-size="30.1" text-anchor="start" stroke="#000" stroke-width="0" >0.0</text>
<path transform="translate(405.04,276.00) scale(0.01470,-0.01435)" d="M763 0H583V1147Q518 1085 412.5 1023T223 930V1104Q374 1175 487 1276T647 1472H763Z" fill="#000" stroke="#000" stroke-width="0.0"/>
<text transform="translate(363.20,311.70) scale(1,1.02)" font-size="30.1" text-anchor="start" stroke="#000" stroke-width="0" >0.02</text>
<text transform="translate(363.20,347.20) scale(1,1.02)" font-size="30.1" text-anchor="start" stroke="#000" stroke-width="0" >0.03</text>
<g fill="none" stroke-linecap="butt">
<path d="M257.9,231.8 H354.6" stroke="#ff0000" stroke-width="3.9" stroke-dasharray="16.3 7.9"/>
<path d="M257.9,267.2 H354.6" stroke="#0000ff" stroke-width="2.8"/>
<path d="M257.9,302.9 H351.0" stroke="#ff8000" stroke-width="3.8" stroke-dasharray="15.8 5.7 4.9 5.8"/>
<path d="M257.9,338.3 H354.6" stroke="#066a16" stroke-width="3.7" stroke-dasharray="4.0 4.38"/>
</g>
</svg></body></html>
